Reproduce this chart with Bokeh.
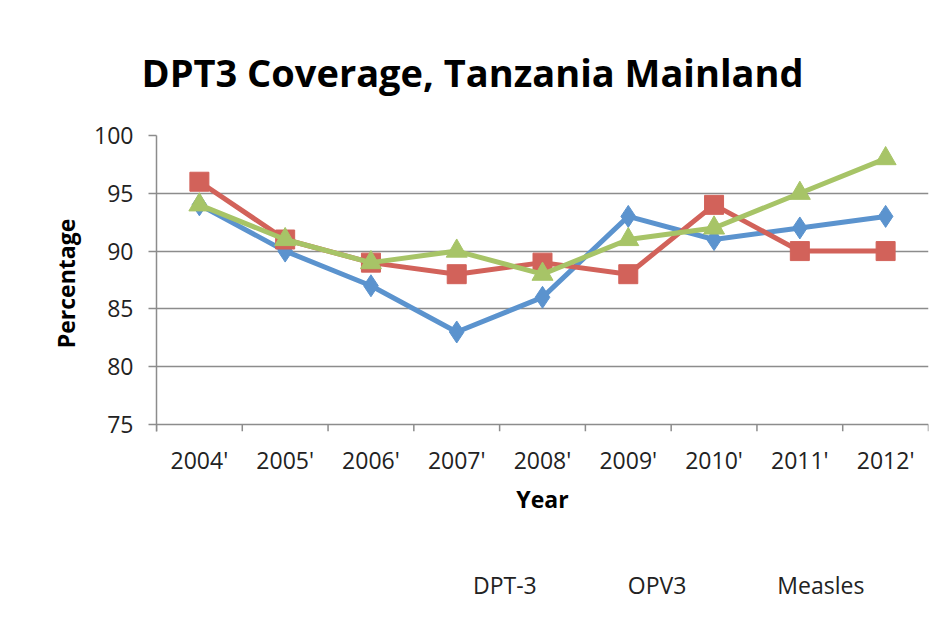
from bokeh.plotting import figure
from bokeh.layouts import column
from bokeh.models import (FactorRange, Range1d, FixedTicker,
                          Legend, LegendItem, Title)
from bokeh.embed import file_html
from bokeh.resources import INLINE

years = ["2004'", "2005'", "2006'", "2007'", "2008'", "2009'", "2010'", "2011'", "2012'"]
dpt3 = [94, 90, 87, 83, 86, 93, 91, 92, 93]
opv3 = [96, 91, 89, 88, 89, 88, 94, 90, 90]
measles = [94, 91, 89, 90, 88, 91, 92, 95, 98]
y_ticks = [75, 80, 85, 90, 95, 100]

BLUE = "#5B93CE"
RED = "#D2625A"
GREEN = "#A7C467"
GRID = "#8C8C8C"
FONT = "Open Sans"

Y0 = 74.39  # frame bottom a little under 75 so the category tick marks show

p = figure(width=945, height=540, x_range=FactorRange(*years), y_range=Range1d(Y0, 100),
           output_backend="svg", toolbar_location=None,
           min_border_left=156, min_border_right=17, min_border_top=135, min_border_bottom=109)
p.outline_line_color = None
p.background_fill_color = "white"
p.border_fill_color = "white"

p.title = Title(text="DPT3  Coverage, Tanzania Mainland", align="left", offset=-15,
                text_font=FONT, text_font_size="38px", text_font_style="bold",
                text_color="#000000", standoff=76)

# y axis
ya = p.yaxis[0]
ya.ticker = FixedTicker(ticks=y_ticks)
ya.axis_line_color = GRID
ya.axis_line_width = 1.5
ya.major_tick_line_color = GRID
ya.major_tick_line_width = 1.5
ya.major_tick_out = 8
ya.major_tick_in = 0
ya.minor_tick_line_color = None
ya.major_label_text_font = FONT
ya.major_label_text_font_size = "23px"
ya.major_label_text_color = "#222222"
ya.major_label_standoff = 15
ya.axis_label = "Percentage"
ya.axis_label_text_font = FONT
ya.axis_label_text_font_size = "23px"
ya.axis_label_text_font_style = "bold"
ya.axis_label_text_color = "#000000"
ya.axis_label_standoff = 9

p.ygrid.ticker = FixedTicker(ticks=y_ticks)
p.ygrid.grid_line_color = GRID
p.ygrid.grid_line_width = 1.5
p.xgrid.grid_line_color = None

# x axis (categorical)
xa = p.xaxis[0]
xa.axis_line_color = None
xa.major_tick_line_color = None
xa.major_label_text_font = FONT
xa.major_label_text_font_size = "23px"
xa.major_label_text_color = "#222222"
xa.major_label_standoff = 6
xa.axis_label = "Year"
xa.axis_label_text_font = FONT
xa.axis_label_text_font_size = "23px"
xa.axis_label_text_font_style = "bold"
xa.axis_label_text_color = "#000000"
xa.axis_label_standoff = 4

# tick marks between categories
bx = [(y, -0.5) for y in years] + [(years[-1], 0.5)]
p.segment(x0=bx, x1=bx, y0=[y_ticks[0]] * len(bx), y1=[Y0] * len(bx),
          line_color=GRID, line_width=1.5)

series = [("DPT-3", dpt3, BLUE, "diamond", 22),
          ("OPV3", opv3, RED, "square", 19),
          ("Measles", measles, GREEN, "triangle", 21)]

# legend strip below the chart
pl = figure(width=945, height=76, x_range=Range1d(0, 1), y_range=Range1d(0, 1),
            output_backend="svg", toolbar_location=None,
            x_axis_location=None, y_axis_location=None,
            min_border_left=0, min_border_right=0, min_border_top=0, min_border_bottom=0)
pl.outline_line_color = None
pl.grid.visible = False
pl.border_fill_color = "white"
pl.background_fill_color = "white"

items = []
for name, vals, col, mk, sz in series:
    p.line(years, vals, line_color=col, line_width=5)
    p.scatter(years, vals, marker=mk, size=sz, fill_color=col, line_color=col)
    l2 = pl.line(x=[], y=[], line_color=col, line_width=5)
    s2 = pl.scatter(x=[], y=[], marker=mk, size=sz - 2, fill_color=col, line_color=col)
    items.append(LegendItem(label=name, renderers=[l2, s2]))

leg = Legend(items=items, orientation="horizontal", location=(259, 15),
             border_line_color=None, background_fill_alpha=0,
             label_text_font=FONT, label_text_font_size="23px", label_text_color="#222222",
             glyph_width=56, glyph_height=30, label_standoff=2, spacing=33, padding=0, margin=0)
pl.add_layout(leg)

open("out.html", "w").write(file_html(column(p, pl, spacing=0), INLINE))
